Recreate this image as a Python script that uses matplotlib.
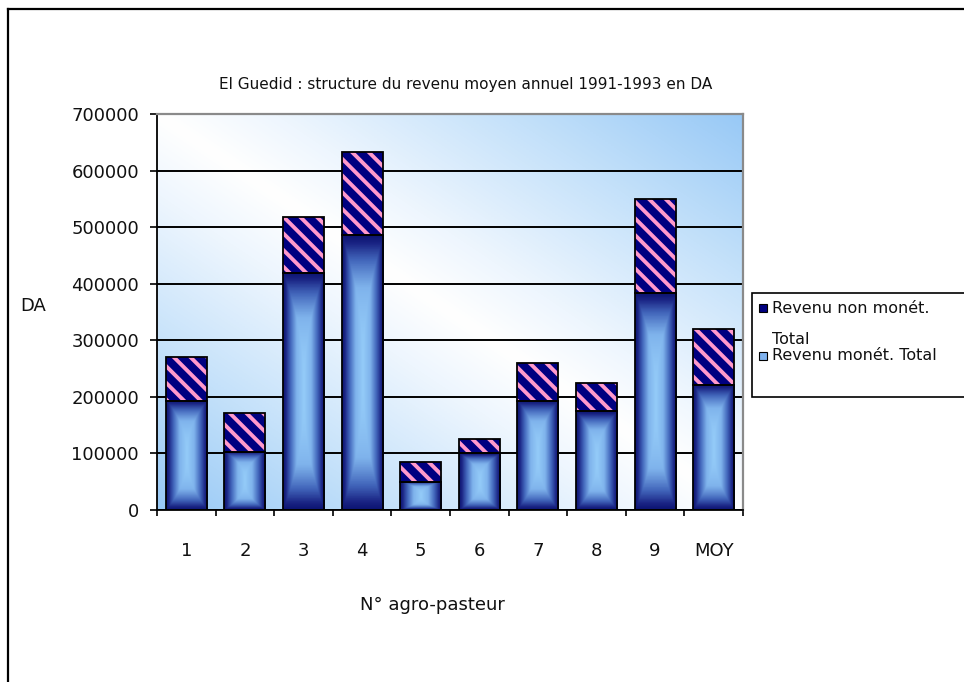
import numpy as np
import matplotlib.pyplot as plt
from matplotlib.colors import LinearSegmentedColormap
from matplotlib.patches import Rectangle
from matplotlib.lines import Line2D

categories = ['1', '2', '3', '4', '5', '6', '7', '8', '9', 'MOY']
revenu_monet = [193000, 103000, 419000, 486000, 50000, 100000, 193000, 175000, 383000, 221000]
revenu_non_monet = [77000, 68000, 99000, 147000, 35000, 25000, 67000, 49000, 167000, 99000]
yticks = [0, 100000, 200000, 300000, 400000, 500000, 600000, 700000]

W, H = 964, 682
plt.rcParams['font.family'] = ['DejaVu Sans']
plt.rcParams['hatch.linewidth'] = 2.8

fig = plt.figure(figsize=(W / 100, H / 100), dpi=100)
fig.patch.set_facecolor('white')

# pixel helpers for figure coords
def fx(px):
    return px / W

def fy(py):
    return 1 - py / H

ax = fig.add_axes([fx(157), fy(510), fx(743) - fx(157), fy(114) - fy(510)])

# plot area background: blue corners, white diagonal band
gu = np.linspace(0, 1, 200)
gv = np.linspace(0, 1, 200)
GU, GV = np.meshgrid(gu, gv)
s = np.abs(GU + GV - 1)
bg_cmap = LinearSegmentedColormap.from_list(
    'bg', [(0, '#ffffff'), (0.2, '#eef6fe'), (0.6, '#c4e1fa'), (1, '#98c9f6')])
ax.imshow(s, cmap=bg_cmap, origin='lower', extent=[-0.5, 9.5, 0, 700000],
          aspect='auto', zorder=0, vmin=0, vmax=1)

# bar shading, light centre to navy edges
bar_cmap = LinearSegmentedColormap.from_list(
    'bar', [(0, '#94cbf8'), (0.35, '#7fb3ec'), (0.65, '#4266bb'), (0.88, '#1a2484'), (1, '#0c1472')])
bu = np.linspace(-1, 1, 60)
bv = np.linspace(-1, 1, 160)
BU, BV = np.meshgrid(bu, bv)
shade = np.maximum(np.abs(BU), np.abs(BV) ** 2.2)

x = np.arange(len(categories))
width = 0.7
for xi, m in zip(x, revenu_monet):
    ax.imshow(shade, cmap=bar_cmap, origin='lower', aspect='auto', zorder=2,
              extent=[xi - width / 2, xi + width / 2, 0, m], vmin=0, vmax=1)
ax.bar(x, revenu_monet, width, fill=False, edgecolor='black', lw=1.3, zorder=3)

# hatched part on top
ax.bar(x, revenu_non_monet, width, bottom=revenu_monet, color='#000080',
       edgecolor='#ff99cc', hatch='\\\\', lw=0, zorder=2)
ax.bar(x, revenu_non_monet, width, bottom=revenu_monet, fill=False,
       edgecolor='black', lw=1.3, zorder=3)

ax.set_xlim(-0.5, 9.5)
ax.set_ylim(0, 700000)
ax.set_yticks(yticks)
ax.set_yticklabels([str(v) for v in yticks])
ax.set_xticks(x)
ax.set_xticklabels(categories)
ax.set_xticks(np.arange(-0.5, 10, 1), minor=True)
ax.tick_params(axis='x', which='major', length=0, pad=23, labelsize=13, labelcolor='#111111')
ax.tick_params(axis='x', which='minor', length=4.5, width=1.2, direction='out')
ax.tick_params(axis='y', length=5, width=1.2, pad=8, labelsize=13, labelcolor='#111111')

ax.yaxis.grid(True, color='black', lw=1.4)
ax.set_axisbelow(True)
for side in ['left', 'bottom']:
    ax.spines[side].set_color('black')
    ax.spines[side].set_linewidth(1.3)
for side in ['top', 'right']:
    ax.spines[side].set_color('#8a8a8a')
    ax.spines[side].set_linewidth(1.6)

fig.text(fx(466), fy(85), 'El Guedid : structure du revenu moyen annuel 1991-1993 en DA',
         ha='center', va='center', fontsize=11, color='#111111')
fig.text(fx(33), fy(306), 'DA', ha='center', va='center', fontsize=13, color='#111111')
fig.text(fx(432), fy(605), 'N° agro-pasteur', ha='center', va='center', fontsize=13, color='#111111')

# legend box
fig.patches.append(Rectangle((fx(752), fy(397)), fx(980) - fx(752), fy(293) - fy(397),
                             transform=fig.transFigure, facecolor='white',
                             edgecolor='black', lw=1.2, zorder=1))
fig.patches.append(Rectangle((fx(759), fy(312)), fx(8), fy(0) - fy(8),
                             transform=fig.transFigure, facecolor='#000080',
                             edgecolor='black', lw=0.8, zorder=2))
fig.patches.append(Rectangle((fx(759), fy(360)), fx(8), fy(0) - fy(8),
                             transform=fig.transFigure, facecolor='#7fb2ee',
                             edgecolor='black', lw=0.8, zorder=2))
fig.text(fx(772), fy(308), 'Revenu non monét.', ha='left', va='center', fontsize=11.5, color='#111111')
fig.text(fx(772), fy(340), 'Total', ha='left', va='center', fontsize=11.5, color='#111111')
fig.text(fx(772), fy(356), 'Revenu monét. Total', ha='left', va='center', fontsize=11.5, color='#111111')

# outer frame, left and top edges
fig.lines.append(Line2D([fx(7.5), fx(7.5)], [0, fy(9)], transform=fig.transFigure, color='black', lw=1.6))
fig.lines.append(Line2D([fx(7.5), 1], [fy(9), fy(9)], transform=fig.transFigure, color='black', lw=1.6))

fig.savefig('out.png', dpi=100)
